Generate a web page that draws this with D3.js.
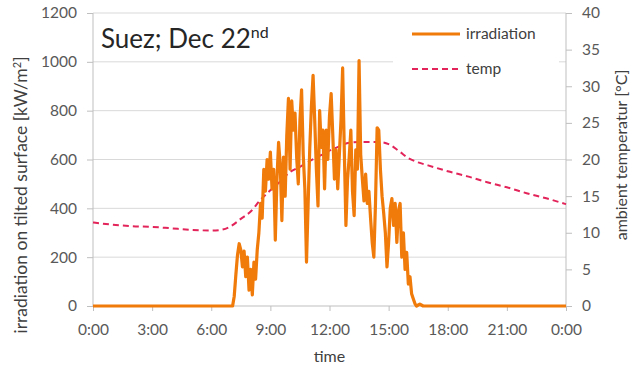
<!DOCTYPE html>
<html>
<head>
<meta charset="utf-8">
<script src="https://cdn.jsdelivr.net/npm/d3@7"></script>
<style>
  body { margin: 0; background: #fff; }
  text { font-family: Lato, "Open Sans", sans-serif; }
</style>
</head>
<body>
<div id="chart"></div>
<script>
// x axis tick labels (hours of the day)
var timeTicks = [0, 3, 6, 9, 12, 15, 18, 21, 24];
var timeLabels = ["0:00", "3:00", "6:00", "9:00", "12:00", "15:00", "18:00", "21:00", "0:00"];
var irrTicks = [0, 200, 400, 600, 800, 1000, 1200];
var tempTicks = [0, 5, 10, 15, 20, 25, 30, 35, 40];

// irradiation on tilted surface [kW/m2]
var irrTime = ("0:00 7:00 7:05 7:10 7:15 7:20 7:25 7:30 7:35 7:40 7:45 7:50 7:55 " +
  "8:00 8:05 8:10 8:15 8:20 8:25 8:30 8:35 8:40 8:45 8:50 8:55 " +
  "9:00 9:05 9:10 9:15 9:20 9:25 9:30 9:35 9:40 9:45 9:50 9:55 " +
  "10:00 10:05 10:10 10:15 10:20 10:25 10:30 10:35 10:40 10:45 10:50 10:55 " +
  "11:00 11:05 11:10 11:15 11:20 11:25 11:30 11:35 11:40 11:45 11:50 11:55 " +
  "12:00 12:05 12:10 12:15 12:20 12:25 12:30 12:35 12:40 12:45 12:50 12:55 " +
  "13:00 13:05 13:10 13:15 13:20 13:25 13:30 13:35 13:40 13:45 13:50 13:55 " +
  "14:00 14:05 14:10 14:15 14:20 14:25 14:30 14:35 14:40 14:45 14:50 14:55 " +
  "15:00 15:05 15:10 15:15 15:20 15:25 15:30 15:35 15:40 15:45 15:50 15:55 " +
  "16:00 16:05 16:10 16:15 16:20 16:25 16:35 16:45 24:00").split(" ");
var irrValue = [0, 0, 0, 40, 130, 210, 255, 230, 160, 225, 120, 200, 65,
  150, 45, 180, 110, 230, 300, 420, 360, 560, 470, 600, 520,
  630, 480, 560, 270, 520, 670, 580, 350, 610, 450, 700, 850,
  560, 840, 720, 790, 610, 500, 760, 885, 620, 480, 180, 420,
  650, 820, 945, 760, 560, 410, 800, 650, 720, 480, 720, 600,
  780, 870, 700, 520, 640, 480, 620, 760, 975, 640, 330, 520,
  610, 720, 470, 370, 640, 560, 1005, 620, 520, 430, 540, 420,
  470, 360, 260, 200, 420, 730, 720, 560, 450, 380, 300, 160,
  260, 400, 440, 330, 420, 260, 390, 420, 200, 300, 150, 220,
  90, 120, 50, 30, 10, 0, 8, 0, 0];

// ambient temperature [°C]
var tempTime = ["0:00", "1:00", "2:00", "3:00", "4:00", "5:00", "6:00", "6:30", "7:00", "7:30",
  "8:00", "8:30", "9:00", "9:30", "10:00", "10:30", "11:00", "11:30", "12:00", "12:30",
  "13:00", "13:30", "14:00", "14:30", "15:00", "15:30", "16:00", "16:30", "17:00",
  "18:00", "19:00", "20:00", "21:00", "22:00", "23:00", "24:00"];
var tempValue = [11.4, 11.1, 10.9, 10.8, 10.6, 10.4, 10.3, 10.4, 10.9, 11.9,
  12.9, 14.5, 15.8, 17.0, 18.3, 19.0, 19.8, 20.5, 21.2, 21.8,
  22.3, 22.4, 22.4, 22.4, 22.1, 21.2, 20.2, 19.6, 19.2,
  18.4, 17.7, 16.9, 16.2, 15.4, 14.7, 13.9];

function toHours(s) {
  var p = s.split(":");
  return +p[0] + (+p[1]) / 60;
}

var margin = {top: 13, right: 77, bottom: 67, left: 93},
    width = 643 - margin.left - margin.right,
    height = 373 - margin.top - margin.bottom;

var svg = d3.select("#chart")
    .append("svg")
    .attr("width", 643)
    .attr("height", 373)
    .append("g")
    .attr("transform", "translate(" + margin.left + "," + margin.top + ")");

var x = d3.scaleLinear().domain([0, 24]).range([0, width]);
var y = d3.scaleLinear().domain([0, 1200]).range([height, 0]);
var y2 = d3.scaleLinear().domain([0, 40]).range([height, 0]);

// gridlines
svg.append("g")
    .selectAll("line")
    .data(irrTicks.slice(1))
    .enter()
    .append("line")
    .attr("x1", 0)
    .attr("x2", width)
    .attr("y1", function(d) { return y(d); })
    .attr("y2", function(d) { return y(d); })
    .attr("stroke", "#d9d9d9")
    .attr("stroke-width", 1);

// left axis
var gl = svg.append("g")
    .call(d3.axisLeft(y).tickValues(irrTicks).tickSize(6).tickPadding(10)
      .tickFormat(d3.format("d")));
// right axis
var gr = svg.append("g")
    .attr("transform", "translate(" + width + ",0)")
    .call(d3.axisRight(y2).tickValues(tempTicks).tickSize(6).tickPadding(10));
// bottom axis
var gb = svg.append("g")
    .attr("transform", "translate(0," + height + ")")
    .call(d3.axisBottom(x).tickValues(timeTicks).tickSize(5).tickPadding(13)
      .tickFormat(function(d, i) { return timeLabels[i]; }));

[gl, gr, gb].forEach(function(g) {
  g.select(".domain").attr("stroke", "#bfbfbf").attr("stroke-width", 1);
  g.selectAll(".tick line").attr("stroke", "#bfbfbf");
  g.selectAll(".tick text").attr("fill", "#595959").style("font-size", "15.5px");
});
gl.select(".domain").attr("d", "M0," + height + "V0");
gr.select(".domain").attr("d", "M0," + height + "V0");
gb.select(".domain").attr("d", "M0,0H" + width);

// legend background
svg.append("rect")
    .attr("x", 300)
    .attr("y", 4)
    .attr("width", 166)
    .attr("height", 76)
    .attr("fill", "#fff");

// temperature line
svg.append("path")
    .datum(tempTime.map(function(t, i) { return {t: toHours(t), v: tempValue[i]}; }))
    .attr("fill", "none")
    .attr("stroke", "#e2245a")
    .attr("stroke-width", 2)
    .attr("stroke-dasharray", "6,4")
    .attr("d", d3.line()
        .curve(d3.curveMonotoneX)
        .x(function(d) { return x(d.t); })
        .y(function(d) { return y2(d.v); }));

// irradiation line
svg.append("path")
    .datum(irrTime.map(function(t, i) { return {t: toHours(t), v: irrValue[i]}; }))
    .attr("fill", "none")
    .attr("stroke", "#f07a0a")
    .attr("stroke-width", 3.2)
    .attr("stroke-linejoin", "round")
    .attr("d", d3.line()
        .x(function(d) { return x(d.t); })
        .y(function(d) { return y(d.v); }));

// title
svg.append("text")
    .attr("x", 8)
    .attr("y", 35)
    .attr("fill", "#262626")
    .style("font-size", "26px")
    .html('Suez; Dec 22<tspan dy="-10" style="font-size:16px">nd</tspan>');

// legend
var legend = [{name: "irradiation", color: "#f07a0a", dash: null, w: 3},
              {name: "temp", color: "#e2245a", dash: "6,4", w: 2}];
var lg = svg.append("g").attr("transform", "translate(319,21)");
legend.forEach(function(d, i) {
  lg.append("line")
      .attr("x1", 0).attr("x2", 48)
      .attr("y1", i * 35).attr("y2", i * 35)
      .attr("stroke", d.color)
      .attr("stroke-width", d.w)
      .attr("stroke-dasharray", d.dash);
  lg.append("text")
      .attr("x", 54)
      .attr("y", i * 35 + 5)
      .attr("fill", "#404040")
      .style("font-size", "15.5px")
      .text(d.name);
});

// axis titles
svg.append("text")
    .attr("transform", "translate(-66,182)rotate(-90)")
    .attr("text-anchor", "middle")
    .attr("fill", "#404040")
    .style("font-size", "17.5px")
    .html('irradiation on tilted surface [kW/m<tspan dy="-6" style="font-size:11px">2</tspan><tspan dy="6">]</tspan>');

svg.append("text")
    .attr("transform", "translate(" + (width + 61) + ",142)rotate(-90)")
    .attr("text-anchor", "middle")
    .attr("fill", "#404040")
    .style("font-size", "16px")
    .text("ambient temperatur [°C]");

svg.append("text")
    .attr("x", width / 2)
    .attr("y", height + 56)
    .attr("text-anchor", "middle")
    .attr("fill", "#404040")
    .style("font-size", "16px")
    .text("time");
</script>
</body>
</html>
